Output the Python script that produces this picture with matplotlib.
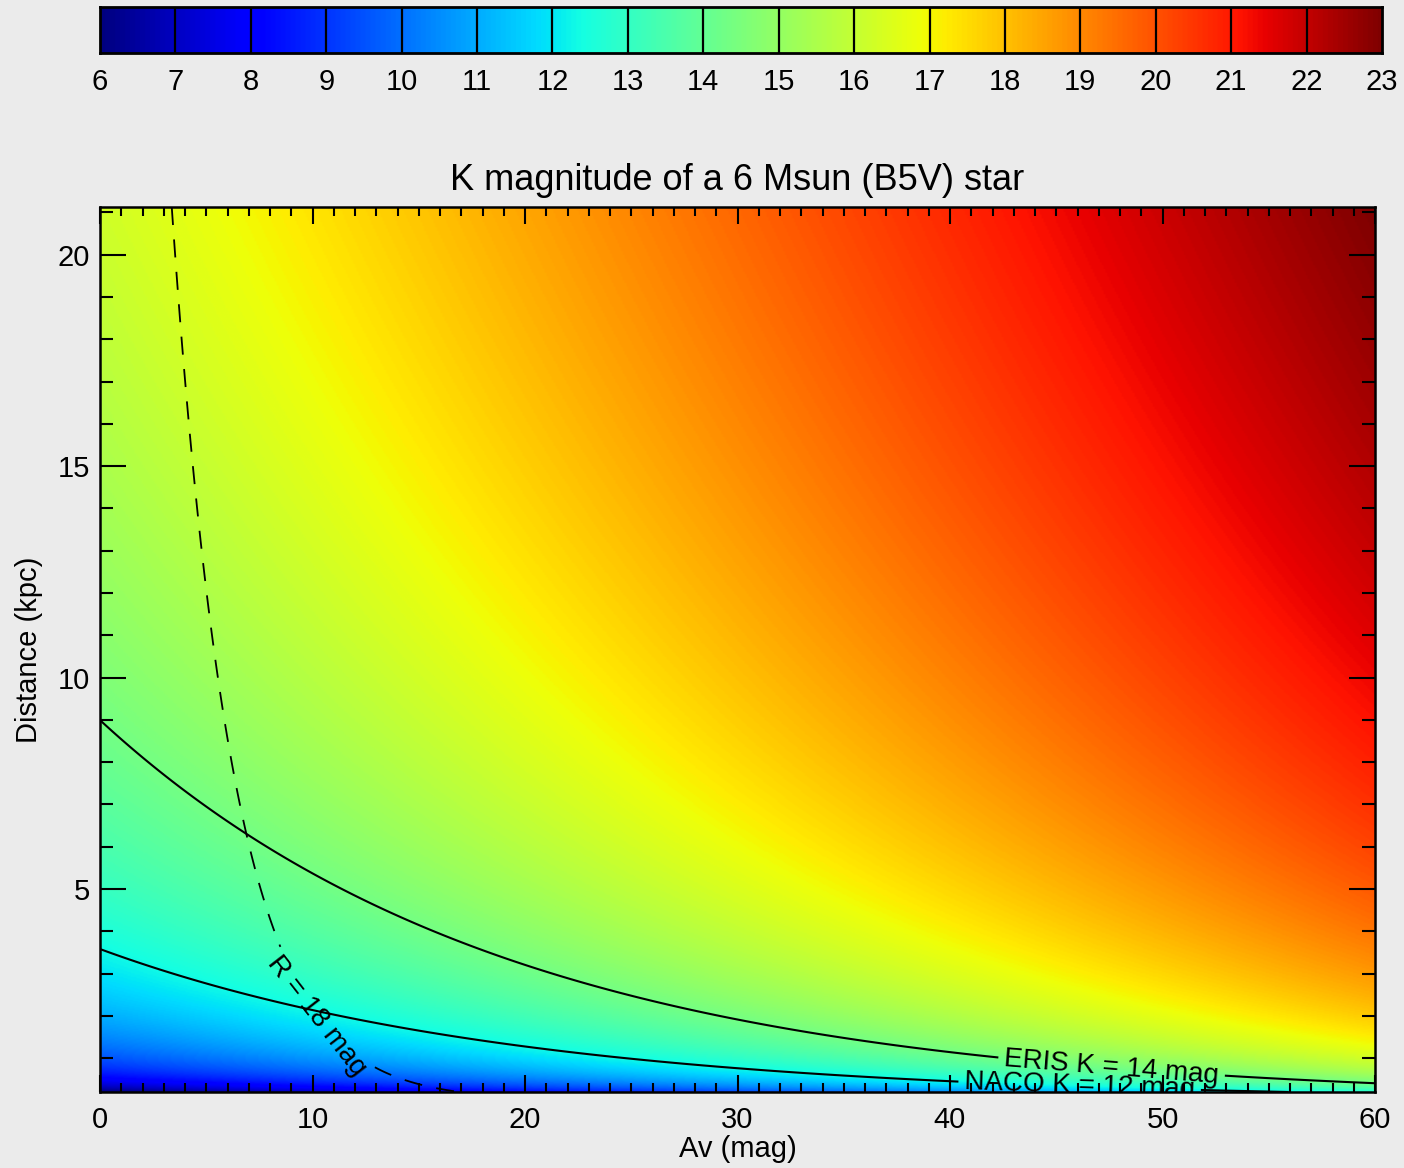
import numpy as np
import matplotlib
matplotlib.use("Agg")
import matplotlib.pyplot as plt
from matplotlib.ticker import MultipleLocator

plt.rcParams['font.family'] = ['Liberation Sans', 'DejaVu Sans']

# ---- model parameters ----
title = "K magnitude of a 6 Msun (B5V) star"
abs_mag_K = -0.77          # absolute K magnitude of the star
abs_mag_R = -1.15          # absolute R magnitude of the star
ext_K_per_Av = 0.112       # A_K / A_V
ext_R_per_Av = 0.748       # A_R / A_V
av_range = [0.0, 60.0]     # Av (mag)
dist_range = [0.2, 21.13]  # distance (kpc)
cbar_range = [6, 23]
cbar_ticks = list(range(6, 24))
contour_K_levels = [12, 14]
contour_K_names = {12: "NACO K = 12 mag", 14: "ERIS K = 14 mag"}
contour_R_levels = [18]
contour_R_names = {18: "R = 18 mag"}
xticks = [0, 10, 20, 30, 40, 50, 60]
yticks = [5, 10, 15, 20]

av = np.linspace(av_range[0], av_range[1], 700)
dist = np.linspace(dist_range[0], dist_range[1], 700)
AV, D = np.meshgrid(av, dist)
dmod = 5 * np.log10(D * 1000 / 10.0)
K = abs_mag_K + dmod + ext_K_per_Av * AV
R = abs_mag_R + dmod + ext_R_per_Av * AV

bg = '#ebebeb'
fig = plt.figure(figsize=(14.04, 11.68), dpi=100, facecolor=bg)
ax = fig.add_axes([100/1404, 1 - 1092/1168, 1275/1404, 885/1168])
cax = fig.add_axes([100/1404, 1 - 53/1168, 1282/1404, 46/1168])

# image colours are stretched over the data range (byte-scaled)
im = ax.imshow(K, origin='lower', aspect='auto', cmap='jet',
               vmin=K.min(), vmax=K.max(),
               extent=[av_range[0], av_range[1], dist_range[0], dist_range[1]],
               interpolation='bilinear')

cs = ax.contour(AV, D, K, levels=contour_K_levels, colors='k', linewidths=1.5)
ax.clabel(cs, fmt=contour_K_names, fontsize=20, inline=True,
          manual=[(47.6, 0.77), (46.1, 0.33)], inline_spacing=6)
cr = ax.contour(AV, D, R, levels=contour_R_levels, colors='k', linewidths=1.3,
                linestyles=[(0, (10, 8))])
ax.clabel(cr, fmt=contour_R_names, fontsize=20, inline=True,
          manual=[(10.2, 2.0)], inline_spacing=6)

ax.set_xlim(av_range)
ax.set_ylim(dist_range)
ax.set_xticks(xticks)
ax.set_yticks(yticks)
ax.xaxis.set_minor_locator(MultipleLocator(1))
ax.yaxis.set_minor_locator(MultipleLocator(1))
ax.tick_params(axis='x', which='major', direction='in', length=12.5, width=1.5,
               top=True, bottom=True, labelsize=21, pad=10)
ax.tick_params(axis='x', which='minor', direction='in', length=6.5, width=1.5,
               top=True, bottom=True)
ax.tick_params(axis='y', which='major', direction='in', length=18.5, width=1.5,
               left=True, right=True, labelsize=21, pad=7)
ax.tick_params(axis='y', which='minor', direction='in', length=9.5, width=1.5,
               left=True, right=True)
for s in ax.spines.values():
    s.set_linewidth(1.8)
ax.set_xlabel("Av (mag)", fontsize=21, labelpad=1)
ax.set_ylabel("Distance (kpc)", fontsize=21, labelpad=11)
ax.set_title(title, fontsize=26, pad=12)

# colour bar with labelled range 6..23
grad = np.linspace(cbar_range[0], cbar_range[1], 1024)[None, :]
cax.imshow(grad, aspect='auto', cmap='jet', vmin=cbar_range[0], vmax=cbar_range[1],
           extent=[cbar_range[0], cbar_range[1], 0, 1], interpolation='bilinear')
cax.set_xlim(cbar_range)
cax.set_ylim(0, 1)
cax.set_yticks([])
cax.set_xticks(cbar_ticks)
cax.tick_params(axis='x', length=0, labelsize=21, pad=11)
for t in cbar_ticks[1:-1]:
    cax.axvline(t, color='k', lw=1.6)
for s in cax.spines.values():
    s.set_linewidth(2)

fig.savefig('out.png', dpi=100, facecolor=bg)
